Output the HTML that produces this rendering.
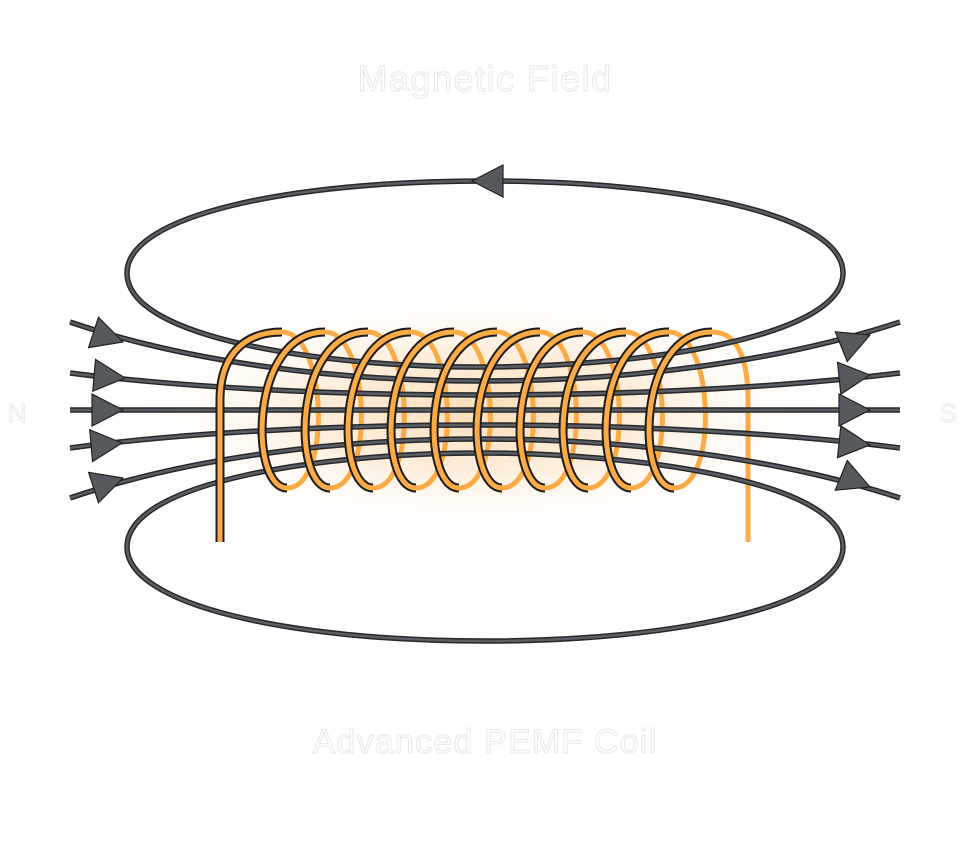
<!DOCTYPE html>
<html><head><meta charset="utf-8"><style>
html,body{margin:0;padding:0;background:#fff;}
svg{display:block;}
</style></head><body>
<svg width="960" height="864" viewBox="0 0 960 864" xmlns="http://www.w3.org/2000/svg">
<defs>
<radialGradient id="glow" cx="0.5" cy="0.5" r="0.5">
<stop offset="0" stop-color="#fcd6a8" stop-opacity="0.8"/>
<stop offset="0.5" stop-color="#fde2c2" stop-opacity="0.55"/>
<stop offset="1" stop-color="#fff" stop-opacity="0"/>
</radialGradient>
</defs>
<rect width="960" height="864" fill="#fff"/>
<ellipse cx="480" cy="412" rx="360" ry="125" fill="url(#glow)"/>

<g font-family="Liberation Sans, sans-serif" fill="#fff" stroke="#e8e8e8" stroke-width="1" text-anchor="middle">
<text x="485" y="91" font-size="36" letter-spacing="1.5">Magnetic Field</text>
<text x="485" y="753" font-size="34" letter-spacing="1.2">Advanced PEMF Coil</text>
<text x="17" y="422" font-size="26">N</text>
<text x="948" y="422" font-size="26">S</text>
</g>

<!-- back arcs -->
<g fill="none" stroke="#fbab45" stroke-width="5" stroke-linecap="butt">
<path d="M282,332 C327,332 332,488 287,488"/>
<path d="M325,332 C370,332 375,488 330,488"/>
<path d="M368,332 C413,332 418,488 373,488"/>
<path d="M411,332 C456,332 461,488 416,488"/>
<path d="M454,332 C499,332 504,488 459,488"/>
<path d="M497,332 C542,332 547,488 502,488"/>
<path d="M540,332 C585,332 590,488 545,488"/>
<path d="M583,332 C628,332 633,488 588,488"/>
<path d="M626,332 C671,332 676,488 631,488"/>
<path d="M669,332 C714,332 719,488 674,488"/>
<path d="M712,332 C738,332 748,360 748,400 L748,542"/>
</g>

<!-- field lines -->
<g fill="none" stroke-linecap="butt">
<g stroke="#26282b" stroke-width="5.5">
<path d="M480,367 C330,367 127,340 127,273 C127,215 290,181 485,181 C680,181 843,215 843,273 C843,340 630,367 480,367"/>
<path d="M480,453 C330,453 127,480 127,547 C127,605 290,641 485,641 C680,641 843,605 843,547 C843,480 630,453 480,453"/>
<path d="M70,322 C300,400.7 660,400.7 900,322"/>
<path d="M70,373 C300,402.3 660,402.3 900,373"/>
<path d="M70,410 L900,410"/>
<path d="M70,448 C300,417.3 660,417.3 900,448"/>
<path d="M70,498 C300,419.3 660,419.3 900,498"/>
</g>
<g stroke="#5a5e63" stroke-width="2.5">
<path d="M480,367 C330,367 127,340 127,273 C127,215 290,181 485,181 C680,181 843,215 843,273 C843,340 630,367 480,367"/>
<path d="M480,453 C330,453 127,480 127,547 C127,605 290,641 485,641 C680,641 843,605 843,547 C843,480 630,453 480,453"/>
<path d="M70,322 C300,400.7 660,400.7 900,322"/>
<path d="M70,373 C300,402.3 660,402.3 900,373"/>
<path d="M70,410 L900,410"/>
<path d="M70,448 C300,417.3 660,417.3 900,448"/>
<path d="M70,498 C300,419.3 660,419.3 900,498"/>
</g>
</g>

<!-- arrows -->
<g fill="#55595e" stroke="#222" stroke-width="1.2" stroke-linejoin="miter">
<polygon points="0,0 -31,-16 -31,16" transform="translate(123,342) rotate(18)"/>
<polygon points="0,0 -31,-16 -31,16" transform="translate(125,378) rotate(5)"/>
<polygon points="0,0 -31,-16 -31,16" transform="translate(123,410)"/>
<polygon points="0,0 -31,-16 -31,16" transform="translate(122,443) rotate(-5)"/>
<polygon points="0,0 -31,-16 -31,16" transform="translate(123,478) rotate(-18)"/>
<polygon points="0,0 -31,-16 -31,16" transform="translate(870,335) rotate(-22)"/>
<polygon points="0,0 -31,-16 -31,16" transform="translate(870,375) rotate(-6)"/>
<polygon points="0,0 -31,-16 -31,16" transform="translate(870,410)"/>
<polygon points="0,0 -31,-16 -31,16" transform="translate(870,445) rotate(6)"/>
<polygon points="0,0 -31,-16 -31,16" transform="translate(870,487) rotate(22)"/>
<polygon points="0,0 -31,-16 -31,16" transform="translate(472,181) rotate(180)"/>
</g>

<!-- front arcs -->
<g fill="none" stroke-linecap="butt">
<g stroke="#1d1d1d" stroke-width="9">
<path d="M282,332 C240,332 220,360 220,400 L220,542"/>
<path d="M325,332 C249,332 249,488 287,488"/>
<path d="M368,332 C292,332 292,488 330,488"/>
<path d="M411,332 C335,332 335,488 373,488"/>
<path d="M454,332 C378,332 378,488 416,488"/>
<path d="M497,332 C421,332 421,488 459,488"/>
<path d="M540,332 C464,332 464,488 502,488"/>
<path d="M583,332 C507,332 507,488 545,488"/>
<path d="M626,332 C550,332 550,488 588,488"/>
<path d="M669,332 C593,332 593,488 631,488"/>
<path d="M712,332 C636,332 636,488 674,488"/>
</g>
<g stroke="#fbab45" stroke-width="5">
<path d="M282,332 C240,332 220,360 220,400 L220,542"/>
<path d="M325,332 C249,332 249,488 287,488"/>
<path d="M368,332 C292,332 292,488 330,488"/>
<path d="M411,332 C335,332 335,488 373,488"/>
<path d="M454,332 C378,332 378,488 416,488"/>
<path d="M497,332 C421,332 421,488 459,488"/>
<path d="M540,332 C464,332 464,488 502,488"/>
<path d="M583,332 C507,332 507,488 545,488"/>
<path d="M626,332 C550,332 550,488 588,488"/>
<path d="M669,332 C593,332 593,488 631,488"/>
<path d="M712,332 C636,332 636,488 674,488"/>
</g>
</g>
</svg>
</body></html>
